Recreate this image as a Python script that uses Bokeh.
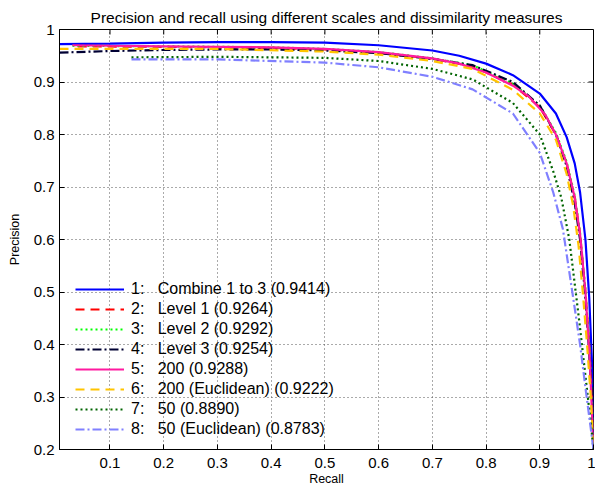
from bokeh.plotting import figure
from bokeh.models import Range1d, FixedTicker, Legend, LegendItem
from bokeh.embed import file_html
from bokeh.resources import INLINE

# ---- data ----
x_ticks = [0.1, 0.2, 0.3, 0.4, 0.5, 0.6, 0.7, 0.8, 0.9, 1.0]
x_tick_labels = ["0.1", "0.2", "0.3", "0.4", "0.5", "0.6", "0.7", "0.8", "0.9", "1"]
y_ticks = [0.2, 0.3, 0.4, 0.5, 0.6, 0.7, 0.8, 0.9, 1.0]
y_tick_labels = ["0.2", "0.3", "0.4", "0.5", "0.6", "0.7", "0.8", "0.9", "1"]

s1_x = [0.006, 0.1, 0.2, 0.3, 0.4, 0.5, 0.6, 0.7, 0.75, 0.8, 0.85, 0.9, 0.93, 0.95, 0.965, 0.975, 0.985, 0.992, 0.997, 1.0]
s1_y = [0.972, 0.973, 0.975, 0.976, 0.976, 0.975, 0.970, 0.960, 0.950, 0.935, 0.913, 0.878, 0.840, 0.795, 0.745, 0.690, 0.600, 0.490, 0.370, 0.2]

s2_x = [0.04, 0.2, 0.4, 0.5, 0.6, 0.7, 0.775, 0.85, 0.9, 0.93, 0.95, 0.965, 0.975, 0.985, 0.992, 0.997, 1.0]
s2_y = [0.968, 0.967, 0.965, 0.962, 0.956, 0.944, 0.930, 0.895, 0.852, 0.800, 0.745, 0.680, 0.610, 0.500, 0.400, 0.300, 0.2]

s3_x = [0.03, 0.2, 0.4, 0.5, 0.6, 0.7, 0.775, 0.85, 0.9, 0.93, 0.95, 0.965, 0.975, 0.985, 0.992, 0.997, 1.0]
s3_y = [0.969, 0.968, 0.966, 0.963, 0.957, 0.945, 0.932, 0.897, 0.855, 0.803, 0.748, 0.683, 0.612, 0.502, 0.400, 0.300, 0.2]

s4_x = [0.006, 0.1, 0.2, 0.3, 0.4, 0.5, 0.6, 0.7, 0.775, 0.85, 0.9, 0.93, 0.95, 0.965, 0.975, 0.984, 0.991, 0.997, 1.0]
s4_y = [0.956, 0.959, 0.961, 0.962, 0.962, 0.960, 0.955, 0.944, 0.932, 0.900, 0.855, 0.800, 0.740, 0.670, 0.600, 0.500, 0.400, 0.300, 0.2]

s5_x = [0.03, 0.1, 0.2, 0.3, 0.4, 0.5, 0.6, 0.7, 0.75, 0.8, 0.85, 0.88, 0.91, 0.93, 0.95, 0.965, 0.975, 0.985, 0.993, 1.0]
s5_y = [0.970, 0.969, 0.968, 0.967, 0.966, 0.963, 0.957, 0.945, 0.935, 0.918, 0.893, 0.872, 0.838, 0.800, 0.745, 0.680, 0.610, 0.500, 0.370, 0.2]

s6_x = [0.006, 0.3, 0.5, 0.6, 0.7, 0.775, 0.85, 0.9, 0.93, 0.95, 0.962, 0.972, 0.98, 0.988, 0.995, 1.0]
s6_y = [0.963, 0.963, 0.958, 0.952, 0.940, 0.925, 0.885, 0.840, 0.790, 0.725, 0.665, 0.590, 0.500, 0.400, 0.300, 0.2]

s7_x = [0.14, 0.3, 0.5, 0.6, 0.7, 0.775, 0.85, 0.9, 0.925, 0.94, 0.955, 0.974, 0.985, 0.995, 1.0]
s7_y = [0.947, 0.948, 0.946, 0.940, 0.925, 0.905, 0.860, 0.800, 0.730, 0.680, 0.600, 0.440, 0.340, 0.250, 0.2]

s8_x = [0.14, 0.3, 0.5, 0.6, 0.7, 0.775, 0.85, 0.9, 0.925, 0.943, 0.962, 0.975, 0.986, 1.0]
s8_y = [0.943, 0.943, 0.937, 0.928, 0.910, 0.886, 0.840, 0.765, 0.690, 0.620, 0.490, 0.400, 0.310, 0.2]

labels = [
    "1:   Combine 1 to 3 (0.9414)",
    "2:   Level 1 (0.9264)",
    "3:   Level 2 (0.9292)",
    "4:   Level 3 (0.9254)",
    "5:   200 (0.9288)",
    "6:   200 (Euclidean) (0.9222)",
    "7:   50 (0.8890)",
    "8:   50 (Euclidean) (0.8783)",
]

FONT = "Liberation Sans"
X_MIN, X_MAX, Y_MIN, Y_MAX = 0.006, 1.0, 0.2, 1.0
W, H = 595, 490
BL, BR, BT, BB = 59, 2, 29, 41
TICK_PX = 5

p = figure(width=W, height=H, x_range=Range1d(X_MIN, X_MAX), y_range=Range1d(Y_MIN, Y_MAX),
           output_backend="svg", toolbar_location=None,
           min_border_left=BL, min_border_right=BR, min_border_top=BT, min_border_bottom=BB,
           title="Precision and recall using different scales and dissimilarity measures")
p.title.align = "center"
p.title.text_font = FONT
p.title.text_font_size = "15.5px"
p.title.text_font_style = "normal"
p.title.text_color = "black"
p.title.standoff = 8
p.outline_line_color = "black"
p.outline_line_alpha = 1.0

def style_axis(ax, ticks, labs):
    ax.ticker = FixedTicker(ticks=ticks)
    ax.major_label_overrides = {t: l for t, l in zip(ticks, labs)}
    ax.major_tick_in = TICK_PX
    ax.major_tick_out = 0
    ax.minor_tick_line_color = None
    ax.axis_line_color = "black"
    ax.major_tick_line_color = "black"
    ax.major_label_text_font = FONT
    ax.major_label_text_color = "black"
    ax.major_label_text_font_size = "15px"
    ax.axis_label_text_font = FONT
    ax.axis_label_text_font_size = "12.5px"
    ax.axis_label_text_font_style = "normal"
    ax.axis_label_text_color = "black"

style_axis(p.xaxis[0], x_ticks, x_tick_labels)
style_axis(p.yaxis[0], y_ticks, y_tick_labels)
p.xaxis[0].axis_label = "Recall"
p.yaxis[0].axis_label = "Precision"
p.xaxis[0].major_label_standoff = 8
p.xaxis[0].axis_label_standoff = 1
p.yaxis[0].major_label_standoff = 5
p.yaxis[0].axis_label_standoff = 9

# inward tick marks on the top and right edges of the box (MATLAB "box on")
frame_w = W - BL - BR
frame_h = H - BT - BB
dy = TICK_PX * (Y_MAX - Y_MIN) / frame_h
dx = TICK_PX * (X_MAX - X_MIN) / frame_w
p.segment(x0=x_ticks, y0=[Y_MAX] * len(x_ticks), x1=x_ticks, y1=[Y_MAX - dy] * len(x_ticks),
          line_color="black", line_width=1)
p.segment(x0=[X_MAX] * len(y_ticks), y0=y_ticks, x1=[X_MAX - dx] * len(y_ticks), y1=y_ticks,
          line_color="black", line_width=1)

p.xgrid.ticker = FixedTicker(ticks=x_ticks)
p.ygrid.ticker = FixedTicker(ticks=y_ticks)
for g in (p.xgrid, p.ygrid):
    g.grid_line_color = "#555555"
    g.grid_line_dash = "1 3"
    g.grid_line_width = 1

series = [
    (s1_x, s1_y, "#0000ff", "solid"),
    (s2_x, s2_y, "#ff0000", "9 6"),
    (s3_x, s3_y, "#00ff00", "2 3"),
    (s4_x, s4_y, "#000033", "9 3 2 3"),
    (s5_x, s5_y, "#ff1aa0", "solid"),
    (s6_x, s6_y, "#ffc400", "9 6"),
    (s7_x, s7_y, "#006400", "2 3"),
    (s8_x, s8_y, "#8080ff", "9 3 2 3"),
]

renderers = []
for (xs, ys, col, dash), lab in zip(series, labels):
    r = p.line(xs, ys, line_color=col, line_width=2.2, line_dash=dash)
    renderers.append((r, lab))
items = [LegendItem(label=lab, renderers=[r]) for r, lab in renderers]

legend = Legend(items=items, location=(16, 10))
legend.background_fill_alpha = 0
legend.border_line_alpha = 0
legend.padding = 0
legend.margin = 0
legend.spacing = 0
legend.label_height = 20
legend.glyph_height = 20
legend.glyph_width = 49
legend.label_standoff = 7
legend.label_text_font = FONT
legend.label_text_font_size = "16px"
legend.label_text_color = "black"
p.add_layout(legend)

open("out.html", "w").write(file_html(p, INLINE))
